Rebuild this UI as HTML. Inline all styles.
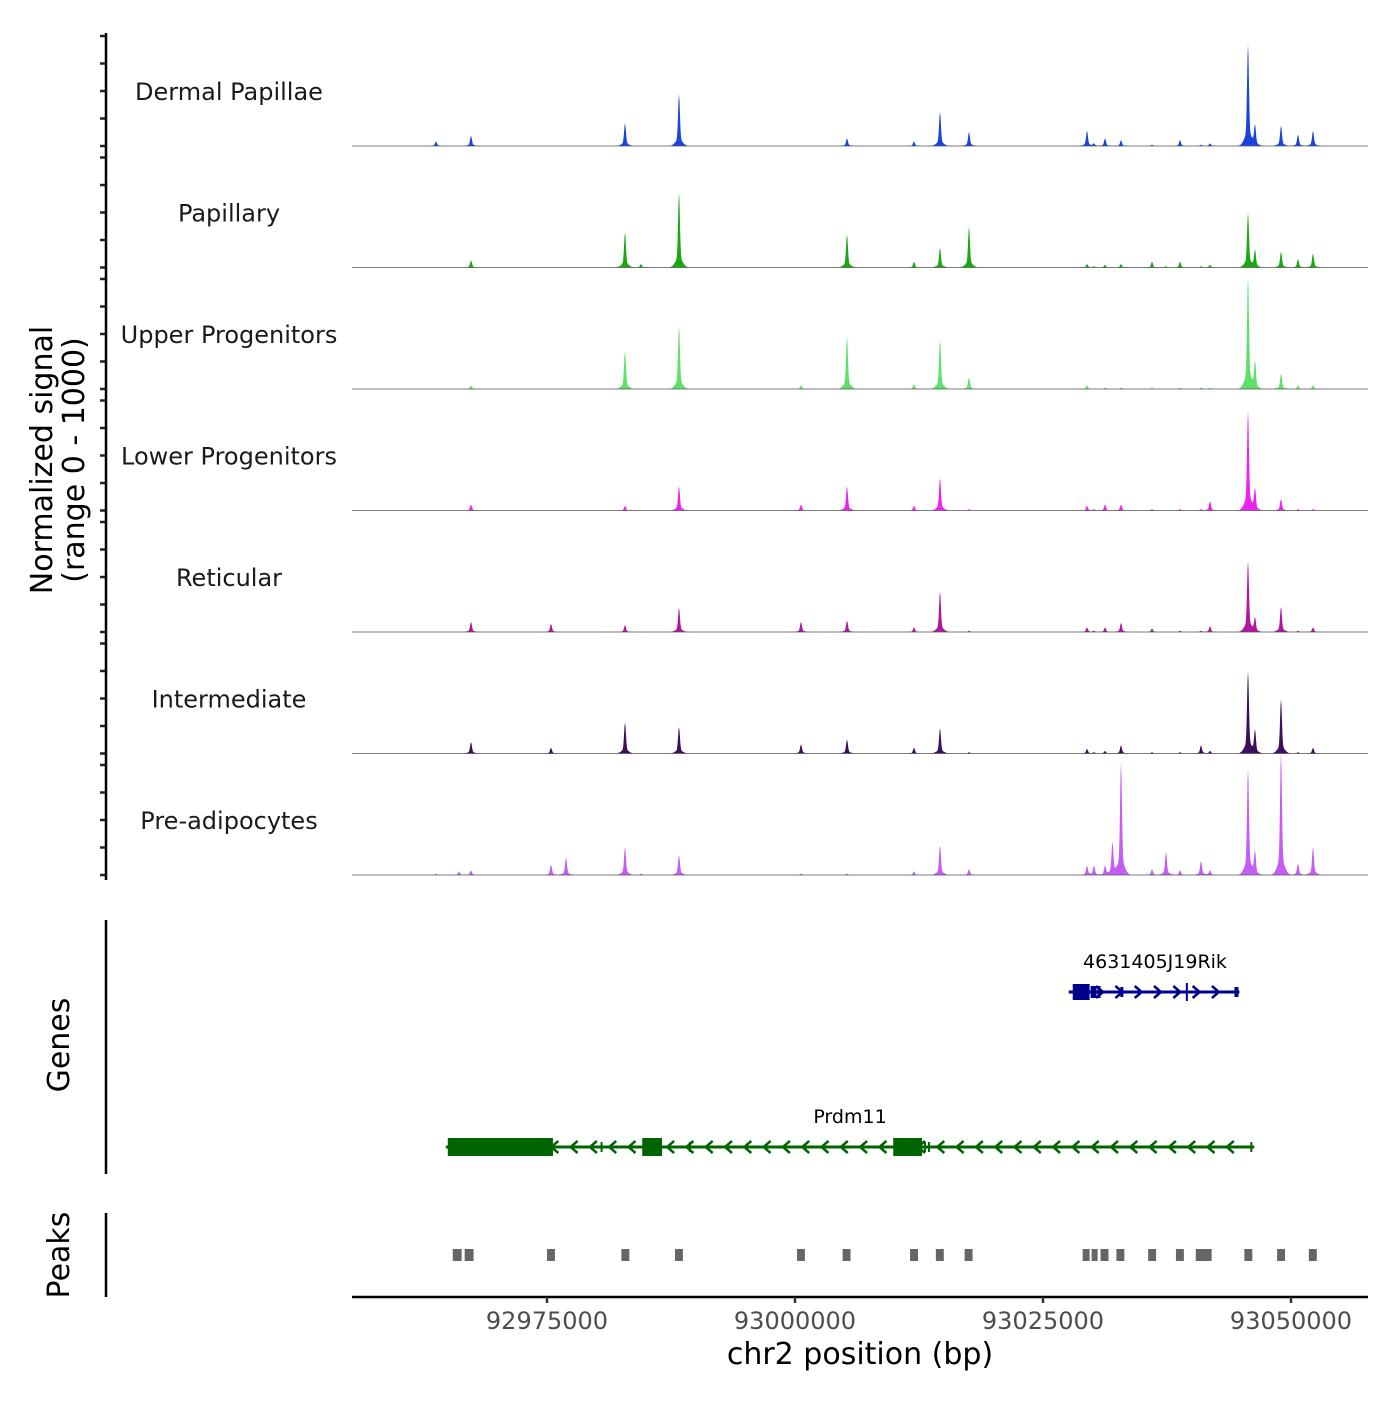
<!DOCTYPE html>
<html><head><meta charset="utf-8"><style>
html,body{margin:0;padding:0;background:#fff;}
svg text{font-family:"DejaVu Sans","Liberation Sans",sans-serif;}
</style></head><body>
<svg id="chart" width="1400" height="1400" viewBox="0 0 1400 1400" xmlns="http://www.w3.org/2000/svg">
<g id="tracks"></g>
<g id="left"></g>
<g id="genes"></g>
<g id="peaks"></g>
<g id="xaxis"></g>
<text x="0" y="0" transform="translate(52,460) rotate(-90)" text-anchor="middle" font-size="30" fill="#000">Normalized signal</text>
<text x="0" y="0" transform="translate(84,460) rotate(-90)" text-anchor="middle" font-size="30" fill="#000">(range 0 - 1000)</text>
<line x1="106" y1="920" x2="106" y2="1174" stroke="#000" stroke-width="2.5"/>
<text transform="translate(69,1045) rotate(-90)" text-anchor="middle" font-size="30">Genes</text>
<line x1="106" y1="1213" x2="106" y2="1297" stroke="#000" stroke-width="2.5"/>
<text transform="translate(69,1255) rotate(-90)" text-anchor="middle" font-size="30">Peaks</text>
<text x="860" y="1364" text-anchor="middle" font-size="30">chr2 position (bp)</text>
</svg>
<script>
const trackNames = ["Dermal Papillae","Papillary","Upper Progenitors","Lower Progenitors","Reticular","Intermediate","Pre-adipocytes"];
const trackColors = ["#1a44dd","#18a810","#5ee06a","#ee22ee","#b0169e","#3b0f5e","#c45cf5"];
const peakPos = [92963810,92966129,92967339,92975403,92976915,92982863,92984476,92988306,93000605,93005242,93011996,93014617,93017540,93029435,93030141,93031250,93032000,93032863,93035988,93037399,93038810,93040927,93041835,93045665,93046371,93048992,93050706,93052218];
const sigDermal   = [36,0,80,0,0,180,0,410,0,60,36,270,110,120,20,60,0,45,10,0,45,10,20,800,160,160,90,120];
const sigPapillary= [0,0,55,0,0,280,27,590,0,260,45,155,320,27,10,20,0,27,45,10,45,10,20,430,135,125,65,110];
const sigUpper    = [0,0,27,0,0,300,0,500,27,410,36,390,90,27,0,10,0,10,10,0,10,10,10,890,210,120,27,27];
const sigLower    = [0,0,45,0,0,36,0,190,45,190,36,255,10,36,10,45,0,45,10,0,10,10,72,790,165,90,10,10];
const sigReticular= [0,0,80,64,0,55,0,190,80,90,36,320,10,36,10,36,0,72,27,0,10,10,45,560,110,200,10,36];
const sigInterm   = [0,0,90,45,0,245,0,210,72,110,45,200,10,36,10,20,0,64,10,0,10,64,20,650,180,430,10,45];
const sigPreadip  = [10,27,36,80,135,220,10,155,10,10,27,235,45,72,72,72,255,890,45,180,36,110,36,840,180,970,90,220];
const trackSignals = [sigDermal,sigPapillary,sigUpper,sigLower,sigReticular,sigInterm,sigPreadip];
const xTicks = [92975000,93000000,93025000,93050000];
const xTickLabels = ["92975000","93000000","93025000","93050000"];
const peakStarts = [92965500,92966700,92975000,92982500,92987900,93000200,93004800,93011600,93014200,93017100,93029000,93029900,93030800,93032400,93035600,93038400,93040400,93041200,93045300,93048600,93051800];
const peakEnds   = [92966400,92967600,92975800,92983300,92988700,93001000,93005600,93012400,93015000,93017900,93029700,93030300,93031600,93033200,93036400,93039200,93041300,93042000,93046100,93049400,93052600];
const rikStart=93027600, rikEnd=93044800;
const rikExonS=[93028000,93029800,93030500,93032800,93039400,93044300];
const rikExonE=[93029700,93030400,93030800,93033100,93039450,93044700];
const rikExonH=[16,12,12,10,18,10];
const prdStart=92964800, prdEnd=93046300;
const prdExonS=[92965000,92984600,93009900,92980400,92989300,93013000,93013400,93045900];
const prdExonE=[92975600,92986600,93012800,92980500,92989500,93013100,93013500,93046100];
const prdExonH=[18,18,18,10,10,10,10,10];

const NS="http://www.w3.org/2000/svg";
const X0=352,X1=1368,bp0=92955343,bp1=93057762;
const xs=b=>X0+(b-bp0)/(bp1-bp0)*(X1-X0);
const baselines=[146,267.5,389,510.5,632,753.5,875];
const yScale=v=>v/1000*110;
function mk(t,a,p){const e=document.createElementNS(NS,t);for(const k in a)e.setAttribute(k,a[k]);p.appendChild(e);return e;}
const tracks=document.getElementById('tracks');
const left=document.getElementById('left');
trackSignals.forEach((sig,ti)=>{
  const B=baselines[ti];
  const g=mk('g',{},tracks);
  
  
  let d='M'+X0+','+B;
  for(let px=X0;px<=X1;px+=0.5){
    let v=0;
    peakPos.forEach((p,i)=>{const dx=(px-xs(p));v+=sig[i]*Math.exp(-dx*dx/(2*0.9*0.9))+sig[i]*0.15*Math.exp(-dx*dx/(2*3.5*3.5));});
    d+=' L'+px+','+(B-yScale(v)).toFixed(2);
  }
  d+=' L'+X1+','+B+' Z';
  const area=mk('path',{d:d,fill:trackColors[ti],stroke:'none'},g);
  
  
  const bl=mk('line',{x1:X0,x2:X1,y1:B,y2:B,stroke:'#555',"stroke-width":0.8},g);
  
  
  const lab=mk('text',{x:229,y:B-46,"text-anchor":"middle","font-size":24,fill:'#1a1a1a'},g);
  lab.textContent=trackNames[ti];
  
  
  for(let k=0;k<=4;k++){
    const t=mk('line',{x1:100,x2:106,y1:B-k*27.5,y2:B-k*27.5,stroke:'#222',"stroke-width":2.5},left);
    
    
  }
});
mk('line',{x1:106,x2:106,y1:33,y2:880,stroke:'#000',"stroke-width":2.5},left);

const genes=document.getElementById('genes');
function drawGene(s,e,es,ee,eh,y,col,dir,label,lx){
  const g=mk('g',{},genes);
  
  
  mk('line',{x1:xs(s),x2:xs(e),y1:y,y2:y,stroke:col,"stroke-width":3},g);
  for(let x=xs(s)+12;x<xs(e)-6;x+=19.3){
    const a=dir>0?`M${x-4},${y-6} L${x+3},${y} L${x-4},${y+6}`:`M${x+4},${y-6} L${x-3},${y} L${x+4},${y+6}`;
    mk('path',{d:a,fill:'none',stroke:col,"stroke-width":2.5},g);
  }
  es.forEach((a,i)=>{const w=Math.max(2,xs(ee[i])-xs(a));mk('rect',{x:xs(a),y:y-eh[i]/2,width:w,height:eh[i],fill:col},g);});
  const t=mk('text',{x:lx,y:y-24,"text-anchor":"middle","font-size":19,fill:'#000'},g);
  t.textContent=label;
}
drawGene(rikStart,rikEnd,rikExonS,rikExonE,rikExonH,992,'#00008b',1,'4631405J19Rik',1155);
drawGene(prdStart,prdEnd,prdExonS,prdExonE,prdExonH,1147,'#006400',-1,'Prdm11',850);

const peaks=document.getElementById('peaks');
peakStarts.forEach((s,i)=>{
  const r=mk('rect',{x:xs(s),y:1249,width:Math.max(6,xs(peakEnds[i])-xs(s)),height:12,fill:'#666'},peaks);
  
  
});

const xa=document.getElementById('xaxis');
mk('line',{x1:X0,x2:X1,y1:1297,y2:1297,stroke:'#000',"stroke-width":2.5},xa);
xTicks.forEach((t,i)=>{
  mk('line',{x1:xs(t),x2:xs(t),y1:1297,y2:1303,stroke:'#333',"stroke-width":2.5},xa);
  const l=mk('text',{x:xs(t),y:1329,"text-anchor":"middle","font-size":24,fill:'#4d4d4d'},xa);
  l.textContent=xTickLabels[i];
  
  
});
</script>
</body></html>
